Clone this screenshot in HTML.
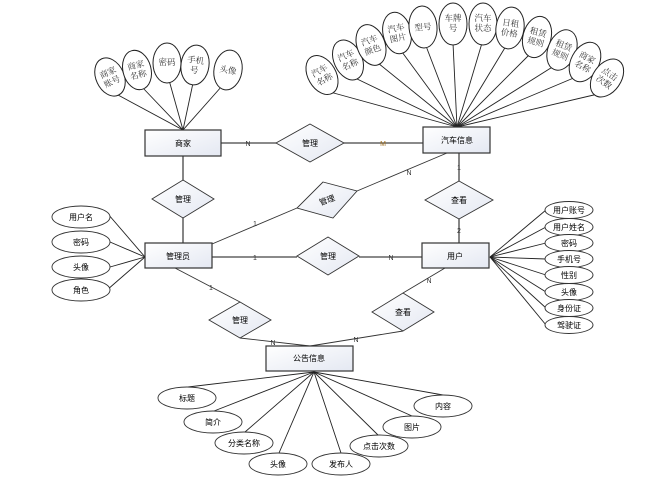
<!DOCTYPE html>
<html><head><meta charset="utf-8"><style>
html,body{margin:0;padding:0;background:#fff;}
svg{display:block}
.s{font-family:"Liberation Sans","Noto Sans CJK SC",sans-serif;font-size:8px;fill:#000}
.f{font-family:"Liberation Serif","Noto Serif CJK SC",serif;font-size:8.5px;fill:#333}
.l{font-family:"Liberation Sans",sans-serif;font-size:7px;fill:#333}
</style></head><body>
<svg width="651" height="487" viewBox="0 0 651 487" xmlns="http://www.w3.org/2000/svg">
<defs>
<linearGradient id="g" x1="0" y1="0" x2="1" y2="1"><stop offset="0" stop-color="#ffffff"/><stop offset="1" stop-color="#e4e8f2"/></linearGradient>
</defs>
<g stroke="#222" stroke-width="0.9" fill="none">
<!-- car attribute lines -->
<line x1="457" y1="127" x2="330" y2="92"/>
<line x1="457" y1="127" x2="355" y2="78"/>
<line x1="457" y1="127" x2="378" y2="63"/>
<line x1="457" y1="127" x2="402" y2="52"/>
<line x1="457" y1="127" x2="426" y2="46"/>
<line x1="457" y1="127" x2="453" y2="43"/>
<line x1="457" y1="127" x2="482" y2="43"/>
<line x1="457" y1="127" x2="506" y2="46"/>
<line x1="457" y1="127" x2="530" y2="54"/>
<line x1="457" y1="127" x2="554" y2="66"/>
<line x1="457" y1="127" x2="576" y2="77"/>
<line x1="457" y1="127" x2="598" y2="94"/>
<!-- merchant lines -->
<line x1="183" y1="130" x2="118" y2="95"/>
<line x1="183" y1="130" x2="142" y2="87"/>
<line x1="183" y1="130" x2="169" y2="80"/>
<line x1="183" y1="130" x2="193" y2="83"/>
<line x1="183" y1="130" x2="222" y2="86"/>
<!-- admin attr lines -->
<line x1="145" y1="257" x2="108" y2="214"/>
<line x1="145" y1="257" x2="110" y2="242"/>
<line x1="145" y1="257" x2="110" y2="267"/>
<line x1="145" y1="257" x2="107" y2="290"/>
<!-- user attr lines -->
<line x1="490" y1="257" x2="546" y2="210"/>
<line x1="490" y1="257" x2="546" y2="227"/>
<line x1="490" y1="257" x2="546" y2="243"/>
<line x1="490" y1="257" x2="546" y2="259"/>
<line x1="490" y1="257" x2="546" y2="275"/>
<line x1="490" y1="257" x2="546" y2="292"/>
<line x1="490" y1="257" x2="546" y2="308"/>
<line x1="490" y1="257" x2="546" y2="325"/>
<!-- notice lines -->
<line x1="314" y1="372" x2="188" y2="387"/>
<line x1="314" y1="372" x2="214" y2="411"/>
<line x1="314" y1="372" x2="245" y2="432"/>
<line x1="314" y1="372" x2="279" y2="453"/>
<line x1="314" y1="372" x2="341" y2="453"/>
<line x1="314" y1="372" x2="378" y2="435"/>
<line x1="314" y1="372" x2="412" y2="416"/>
<line x1="314" y1="372" x2="443" y2="395"/>
</g>
<g stroke="#444" stroke-width="1.3" fill="none">
<line x1="221" y1="143" x2="276" y2="143"/>
<line x1="344" y1="143" x2="423" y2="143"/>
<line x1="183" y1="156" x2="183" y2="180"/>
<line x1="183" y1="218" x2="183" y2="243"/>
<line x1="212" y1="257" x2="297" y2="257"/>
<line x1="359" y1="257" x2="422" y2="257"/>
<line x1="459" y1="153" x2="459" y2="181"/>
<line x1="459" y1="219" x2="459" y2="243"/>
</g>
<g stroke="#333" stroke-width="0.9" fill="none">
<line x1="212" y1="244" x2="297" y2="208"/>
<line x1="357" y1="191" x2="447" y2="153"/>
<line x1="175" y1="268" x2="240" y2="302"/>
<line x1="240" y1="338" x2="310" y2="346"/>
<line x1="403" y1="331" x2="310" y2="346"/>
<line x1="403" y1="293" x2="445" y2="268"/>
</g>
<!-- entities -->
<g stroke="#333" stroke-width="1.2" fill="url(#g)">
<rect x="145" y="130" width="76" height="26"/>
<rect x="423" y="127" width="67" height="26"/>
<rect x="145" y="243" width="67" height="25"/>
<rect x="422" y="243" width="67" height="25"/>
<rect x="266" y="346" width="87" height="25"/>
</g>
<!-- diamonds -->
<g stroke="#333" stroke-width="0.9" fill="url(#g)">
<polygon points="310,124 344,143 310,162 276,143"/>
<polygon points="183,180 214,199 183,218 152,199"/>
<polygon points="323,182 357,191 333,218 297,208"/>
<polygon points="328,237 359,256 328,275 297,256"/>
<polygon points="459,181 493,200 459,219 425,200"/>
<polygon points="240,302 271,320 240,338 209,320"/>
<polygon points="403,293 434,312 403,331 372,312"/>
</g>
<g class="s" text-anchor="middle">
<text x="183" y="146">商家</text>
<text x="457" y="143">汽车信息</text>
<text x="178" y="259">管理员</text>
<text x="455" y="259">用户</text>
<text x="309" y="361">公告信息</text>
<text x="310" y="146">管理</text>
<text x="183" y="202">管理</text>
<text x="327" y="203" transform="rotate(-20 327 200)">管理</text>
<text x="328" y="259">管理</text>
<text x="459" y="203">查看</text>
<text x="240" y="323">管理</text>
<text x="403" y="315">查看</text>
</g>
<!-- admin attrs -->
<g stroke="#333" stroke-width="0.9" fill="#fff">
<ellipse cx="81" cy="217" rx="29" ry="11"/>
<ellipse cx="81" cy="242" rx="29" ry="11"/>
<ellipse cx="81" cy="267" rx="29" ry="11"/>
<ellipse cx="81" cy="290" rx="29" ry="11"/>
</g>
<g class="s" text-anchor="middle">
<text x="81" y="220">用户名</text><text x="81" y="245">密码</text><text x="81" y="270">头像</text><text x="81" y="293">角色</text>
</g>
<!-- user attrs -->
<g stroke="#333" stroke-width="0.9" fill="#fff">
<ellipse cx="569" cy="210" rx="24" ry="8.5"/><ellipse cx="569" cy="227" rx="24" ry="8.5"/>
<ellipse cx="569" cy="243" rx="24" ry="8.5"/><ellipse cx="569" cy="259" rx="24" ry="8.5"/>
<ellipse cx="569" cy="275" rx="24" ry="8.5"/><ellipse cx="569" cy="292" rx="24" ry="8.5"/>
<ellipse cx="569" cy="308" rx="24" ry="8.5"/><ellipse cx="569" cy="325" rx="24" ry="8.5"/>
</g>
<g class="s" text-anchor="middle">
<text x="569" y="213">用户账号</text><text x="569" y="230">用户姓名</text><text x="569" y="246">密码</text><text x="569" y="262">手机号</text>
<text x="569" y="278">性别</text><text x="569" y="295">头像</text><text x="569" y="311">身份证</text><text x="569" y="328">驾驶证</text>
</g>
<!-- notice attrs -->
<g stroke="#333" stroke-width="0.9" fill="#fff">
<ellipse cx="187" cy="398" rx="29" ry="11"/>
<ellipse cx="213" cy="422" rx="29" ry="11"/>
<ellipse cx="244" cy="443" rx="29" ry="11"/>
<ellipse cx="278" cy="464" rx="29" ry="11"/>
<ellipse cx="341" cy="464" rx="29" ry="11"/>
<ellipse cx="379" cy="446" rx="29" ry="11"/>
<ellipse cx="412" cy="427" rx="29" ry="11"/>
<ellipse cx="443" cy="406" rx="29" ry="11"/>
</g>
<g class="s" text-anchor="middle">
<text x="187" y="401">标题</text><text x="213" y="425">简介</text><text x="244" y="446">分类名称</text><text x="278" y="467">头像</text>
<text x="341" y="467">发布人</text><text x="379" y="449">点击次数</text><text x="412" y="430">图片</text><text x="443" y="409">内容</text>
</g>
<!-- merchant attrs -->
<g stroke="#222" stroke-width="1" fill="#fff">
<ellipse cx="110" cy="77" rx="14" ry="20" transform="rotate(-25 110 77)"/>
<ellipse cx="137" cy="70" rx="14" ry="20" transform="rotate(-15 137 70)"/>
<ellipse cx="167" cy="63" rx="14" ry="20"/>
<ellipse cx="195" cy="65" rx="14" ry="20" transform="rotate(8 195 65)"/>
<ellipse cx="228" cy="70" rx="14" ry="20" transform="rotate(10 228 70)"/>
</g>
<g class="f" text-anchor="middle">
<text transform="rotate(-25 110 77)"><tspan x="110" y="75">商家</tspan><tspan x="110" y="85">账号</tspan></text>
<text transform="rotate(-15 137 70)"><tspan x="137" y="68">商家</tspan><tspan x="137" y="78">名称</tspan></text>
<text x="167" y="65">密码</text>
<text transform="rotate(8 195 65)"><tspan x="195" y="63">手机</tspan><tspan x="195" y="73">号</tspan></text>
<text x="228" y="73" transform="rotate(10 228 70)">头像</text>
</g>
<!-- car attrs -->
<g stroke="#222" stroke-width="1" fill="#fff">
<ellipse cx="322" cy="75" rx="14" ry="21" transform="rotate(-30 322 75)"/>
<ellipse cx="348" cy="60" rx="14" ry="21" transform="rotate(-25 348 60)"/>
<ellipse cx="371" cy="45" rx="14" ry="21" transform="rotate(-20 371 45)"/>
<ellipse cx="397" cy="33" rx="14" ry="21" transform="rotate(-12 397 33)"/>
<ellipse cx="423" cy="27" rx="14" ry="21" transform="rotate(-5 423 27)"/>
<ellipse cx="453" cy="24" rx="14" ry="21"/>
<ellipse cx="483" cy="24" rx="14" ry="21"/>
<ellipse cx="510" cy="28" rx="14" ry="21" transform="rotate(8 510 28)"/>
<ellipse cx="537" cy="37" rx="14" ry="21" transform="rotate(15 537 37)"/>
<ellipse cx="562" cy="50" rx="14" ry="21" transform="rotate(22 562 50)"/>
<ellipse cx="585" cy="62" rx="14" ry="21" transform="rotate(28 585 62)"/>
<ellipse cx="607" cy="78" rx="14" ry="21" transform="rotate(35 607 78)"/>
</g>
<g class="f" text-anchor="middle">
<text transform="rotate(-30 322 75)"><tspan x="322" y="73">汽车</tspan><tspan x="322" y="83">名称</tspan></text>
<text transform="rotate(-25 348 60)"><tspan x="348" y="58">汽车</tspan><tspan x="348" y="68">名称</tspan></text>
<text transform="rotate(-20 371 45)"><tspan x="371" y="43">汽车</tspan><tspan x="371" y="53">颜色</tspan></text>
<text transform="rotate(-12 397 33)"><tspan x="397" y="31">汽车</tspan><tspan x="397" y="41">图片</tspan></text>
<text x="423" y="30" transform="rotate(-5 423 27)">型号</text>
<text><tspan x="453" y="21">车牌</tspan><tspan x="453" y="31">号</tspan></text>
<text><tspan x="483" y="21">汽车</tspan><tspan x="483" y="31">状态</tspan></text>
<text transform="rotate(8 510 28)"><tspan x="510" y="26">日租</tspan><tspan x="510" y="36">价格</tspan></text>
<text transform="rotate(15 537 37)"><tspan x="537" y="35">租赁</tspan><tspan x="537" y="45">规则</tspan></text>
<text transform="rotate(22 562 50)"><tspan x="562" y="48">租赁</tspan><tspan x="562" y="58">规则</tspan></text>
<text transform="rotate(28 585 62)"><tspan x="585" y="60">商家</tspan><tspan x="585" y="70">名称</tspan></text>
<text transform="rotate(35 607 78)"><tspan x="607" y="76">点击</tspan><tspan x="607" y="86">次数</tspan></text>
</g>
<!-- cardinality labels -->
<g class="l" text-anchor="middle">
<text x="248" y="146">N</text>
<text x="383" y="146" fill="#a07020">M</text>
<text x="255" y="226">1</text>
<text x="409" y="175">N</text>
<text x="255" y="260">1</text>
<text x="391" y="260">N</text>
<text x="459" y="170">1</text>
<text x="459" y="233">2</text>
<text x="211" y="290">1</text>
<text x="273" y="345">N</text>
<text x="356" y="342">N</text>
<text x="429" y="283">N</text>
</g>
</svg>
</body></html>
